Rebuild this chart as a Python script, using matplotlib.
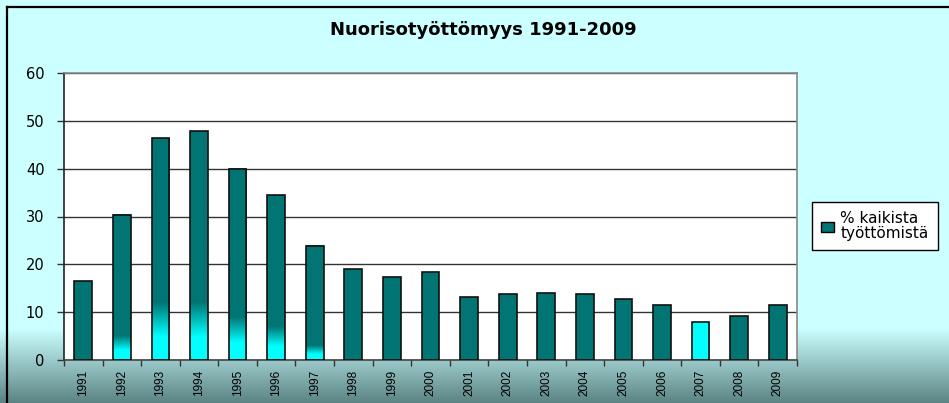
import matplotlib
matplotlib.use("Agg")
import matplotlib.pyplot as plt
import numpy as np
from matplotlib.colors import to_rgb
from matplotlib.patches import Patch, Rectangle
from matplotlib.lines import Line2D

# ---- data ----
years = [str(y) for y in range(1991, 2010)]
values = [16.5, 30.4, 46.4, 47.8, 40.0, 34.4, 23.9, 19.1, 17.4, 18.3,
          13.2, 13.8, 14.0, 13.8, 12.7, 11.4, 7.9, 9.1, 11.6]
# level (%) up to which each bar fades from cyan into teal (0 = no fade)
fade_top = [0, 5, 12, 12, 9, 7, 3, 0, 0, 0, 0, 0, 0, 0, 0, 0, 100, 0, 0]
series_name = "% kaikista\ntyöttömistä"
title = "Nuorisotyöttömyys 1991-2009"
yticks = [0, 10, 20, 30, 40, 50, 60]

# ---- style ----
W, H = 949, 403
TEAL = "#007573"
CYAN = "#00FFFF"
BG = "#CCFFFF"
plt.rcParams['font.family'] = ['DejaVu Sans']
plt.rcParams['image.composite_image'] = False

fig = plt.figure(figsize=(W / 100, H / 100), dpi=100)
fig.patch.set_facecolor(BG)

# background gradient (light cyan -> grey teal at the bottom) as a figure image
ys = np.arange(H)
top_c = np.array(to_rgb(BG))
bot_c = np.array(to_rgb("#5A8282"))
t = np.clip((ys - 328) / (H - 328), 0, 1)[:, None]
grad = top_c * (1 - t) + bot_c * t
img = np.repeat(grad[:, None, :], W, axis=1)
fig.figimage(img, xo=0, yo=0, origin='upper', zorder=-10)

# outer border (left and top visible)
fig.add_artist(Line2D([7 / W, 7 / W], [0, 1 - 7 / H], transform=fig.transFigure,
                      color='black', lw=1.6))
fig.add_artist(Line2D([7 / W, 1], [1 - 7 / H, 1 - 7 / H], transform=fig.transFigure,
                      color='black', lw=1.6))

left, right, top, bottom = 64, 797, 73, 360
ax = fig.add_axes([left / W, 1 - bottom / H, (right - left) / W, (bottom - top) / H])
ax.set_zorder(5)
ax.set_facecolor('white')

x = np.arange(len(years))
bw = 0.46
ax.bar(x, values, width=bw, color=TEAL, edgecolor='none', zorder=2)

teal_rgb = np.array(to_rgb(TEAL))
cyan_rgb = np.array(to_rgb(CYAN))
for xi, v, f in zip(x, values, fade_top):
    if f <= 0:
        continue
    n = 200
    yy = np.linspace(0, v, n)
    a, b = 0.4 * f, f
    tt = np.clip((yy - a) / (b - a), 0, 1)[:, None]
    col = cyan_rgb * (1 - tt) + teal_rgb * tt
    im = np.repeat(col[:, None, :], 2, axis=1)
    ax.imshow(im, aspect='auto', origin='lower',
              extent=[xi - bw / 2, xi + bw / 2, 0, v], zorder=2.5,
              interpolation='bilinear')

ax.bar(x, values, width=bw, facecolor='none', edgecolor='#111111', lw=1.2, zorder=3)

ax.set_xlim(-0.5, len(years) - 0.5)
ax.set_ylim(0, 60)
ax.set_yticks(yticks)
ax.set_yticklabels([str(v) for v in yticks], fontsize=10.5)
ax.yaxis.grid(True, color='#333333', lw=1.0, zorder=1)
ax.set_axisbelow(True)

# category labels centred, ticks at category boundaries
ax.set_xticks(x)
ax.set_xticklabels(years, rotation=90, fontsize=8.5, family='Liberation Sans')
ax.tick_params(axis='x', length=0, pad=7)
ax.set_xticks(np.arange(len(years) + 1) - 0.5, minor=True)
ax.tick_params(axis='x', which='minor', length=4, width=1, color='#333333', direction='out')
ax.tick_params(axis='y', length=5, width=1, color='#333333', pad=9)

ax.spines['left'].set_color('#222222')
ax.spines['bottom'].set_color('#444444')
ax.spines['top'].set_color('#888888')
ax.spines['right'].set_color('#888888')
for s in ax.spines.values():
    s.set_linewidth(1.2)

fig.text(483 / W, 1 - 30 / H, title, ha='center', va='center',
         fontsize=13, fontweight='bold')

handle = Patch(facecolor=TEAL, edgecolor='black', lw=1.0)
leg = fig.legend([handle], [series_name], loc='upper left',
                 bbox_to_anchor=(812 / W, 1 - 202 / H), fontsize=11,
                 frameon=True, fancybox=False, framealpha=1,
                 edgecolor='black', handlelength=0.85, handleheight=0.65,
                 handletextpad=0.4, borderpad=0.6, borderaxespad=0)
leg.get_frame().set_linewidth(1.0)
leg.get_frame().set_facecolor('white')
for tx in leg.get_texts():
    tx.set_linespacing(1.0)
leg.set_zorder(10)

fig.savefig("out.png", dpi=100, facecolor=fig.get_facecolor())
